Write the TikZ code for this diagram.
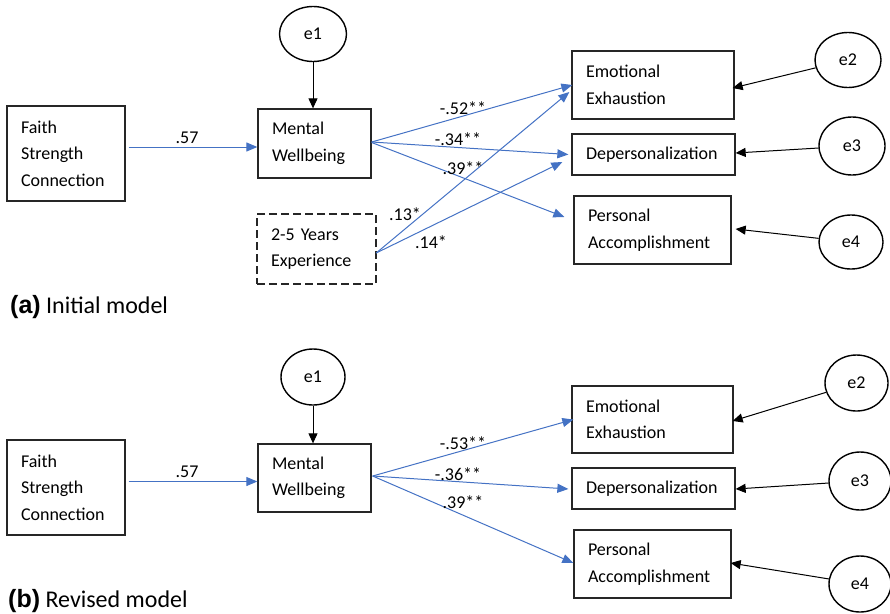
\documentclass[tikz,border=0pt]{standalone}
\usepackage{fontspec}
\setmainfont{Carlito}
\newfontfamily\capfont{Liberation Sans}
\usetikzlibrary{arrows.meta,calc,shapes.geometric}
\definecolor{pathblue}{RGB}{68,114,196}
\tikzset{
  box/.style={draw=black!85, line width=1.3pt, rectangle, inner xsep=14pt, inner ysep=0pt,
     align=left, font=\fontsize{18}{26.5}\selectfont},
  dbox/.style={box, dash pattern=on 8pt off 4pt, line width=2.4pt},
  err/.style={draw=black, line width=1.4pt, ellipse, inner sep=0pt, font=\fontsize{18}{20}\selectfont},
  barrow/.style={draw=pathblue, line width=1pt, -{Triangle[length=11pt,width=9pt]}},
  karrow/.style={draw=black, line width=1pt, -{Triangle[length=10pt,width=9pt]}},
  coef/.style={font=\fontsize{18}{20}\selectfont, inner sep=0pt},
  captext/.style={anchor=base west, inner sep=0pt, font=\fontsize{24}{26}\selectfont}
}
\begin{document}
\begin{tikzpicture}[x=1pt,y=-1pt]
\useasboundingbox (0,0) rectangle (890,613);
% ---------- panel (a) ----------
\node[box, minimum width=118pt, minimum height=95pt, text width=90pt] (faA) at (66,153.5) {Faith\\Strength\\Connection};
\node[box, minimum width=113pt, minimum height=69pt, text width=85pt] (mwA) at (314.5,143.5) {Mental\\Wellbeing};
\node[dbox, minimum width=119pt, minimum height=70pt, text width=91pt] (exA) at (316.5,249) {2-5 Years\\Experience};
\node[box, minimum width=162pt, minimum height=68pt, text width=134pt] (eeA) at (653,85) {Emotional\\Exhaustion};
\node[box, minimum width=163pt, minimum height=41pt, text width=135pt] (dpA) at (653.5,154.5) {Depersonalization};
\node[box, minimum width=157pt, minimum height=68pt, text width=129pt] (paA) at (652.5,230) {Personal\\Accomplishment};
\node[err, minimum width=67pt, minimum height=55pt] (e1A) at (313,34) {e1};
\node[err, minimum width=66pt, minimum height=55pt] (e2A) at (848,60) {e2};
\node[err, minimum width=66pt, minimum height=58pt] (e3A) at (852,146) {e3};
\node[err, minimum width=64pt, minimum height=54pt] (e4A) at (851,242) {e4};

\draw[karrow] (e1A) -- (e1A |- mwA.north);
\draw[karrow] (e2A) -- ($(eeA.east)+(-2,3)$);
\draw[karrow] (e3A) -- ($(dpA.east)+(0,-1.5)$);
\draw[karrow] (e4A) -- ($(paA.east)+(4,-1)$);

\draw[barrow] ($(faA.east)+(3,-6.5)$) -- ($(mwA.west)+(0,3.5)$);
\draw[barrow] ($(mwA.east)+(0,-1.5)$) -- ($(eeA.west)+(1,0)$);
\draw[barrow] ($(mwA.east)+(0,-1.5)$) -- ($(dpA.west)+(-3,0)$);
\draw[barrow] ($(mwA.east)+(0,-1)$) -- ($(paA.west)+(-9,-13)$);
\draw[barrow] ($(exA.east)+(-1,4)$) -- ($(eeA.west)+(-2,7)$);
\draw[barrow] ($(exA.east)+(-1,4)$) -- ($(dpA.west)+(-9,7.5)$);

\node[coef] (cA1) at (187,138) {.57};
\node[coef] (cA2) at (463,108) {-.52**};
\node[coef] (cA3) at (458,139) {-.34**};
\node[coef] (cA4) at (463,168) {.39**};
\node[coef] (cA5) at (405,214) {.13*};
\node[coef] (cA6) at (431,242) {.14*};

\node[captext] (capA) at (10,313) {{\capfont\bfseries\fontsize{25}{26}\selectfont (a)} Initial model};

% ---------- panel (b) ----------
\node[box, minimum width=118pt, minimum height=95pt, text width=90pt] (faB) at (66,487.5) {Faith\\Strength\\Connection};
\node[box, minimum width=113pt, minimum height=68pt, text width=85pt] (mwB) at (314.5,478) {Mental\\Wellbeing};
\node[box, minimum width=161pt, minimum height=67pt, text width=133pt] (eeB) at (652.5,419.5) {Emotional\\Exhaustion};
\node[box, minimum width=163pt, minimum height=41pt, text width=135pt] (dpB) at (653.5,488.5) {Depersonalization};
\node[box, minimum width=157pt, minimum height=68pt, text width=129pt] (paB) at (652.5,564) {Personal\\Accomplishment};
\node[err, minimum width=64pt, minimum height=56pt] (e1B) at (313,377) {e1};
\node[err, minimum width=63pt, minimum height=56pt] (e2B) at (856.5,383) {e2};
\node[err, minimum width=62pt, minimum height=58pt] (e3B) at (860,481) {e3};
\node[err, minimum width=62pt, minimum height=56pt] (e4B) at (860,584) {e4};

\draw[karrow] (e1B) -- (e1B |- mwB.north);
\draw[karrow] (e2B) -- ($(eeB.east)+(-1,1.5)$);
\draw[karrow] (e3B) -- ($(dpB.east)+(0,0.5)$);
\draw[karrow] (e4B) -- ($(paB.east)+(-1,-1)$);

\draw[barrow] ($(faB.east)+(3,-6)$) -- ($(mwB.west)+(0,3.5)$);
\draw[barrow] ($(mwB.east)+(1,-2)$) -- ($(eeB.west)+(2,0)$);
\draw[barrow] ($(mwB.east)+(1,-2)$) -- ($(dpB.west)+(-3,0.5)$);
\draw[barrow] ($(mwB.east)+(1,-2)$) -- ($(paB.west)+(0,-1)$);

\node[coef] (cB1) at (187,472) {.57};
\node[coef] (cB2) at (463,443) {-.53**};
\node[coef] (cB3) at (458,474) {-.36**};
\node[coef] (cB4) at (463,502) {.39**};

\node[captext] (capB) at (8,607) {{\capfont\bfseries\fontsize{25}{26}\selectfont (b)} Revised model};
\end{tikzpicture}
\end{document}
